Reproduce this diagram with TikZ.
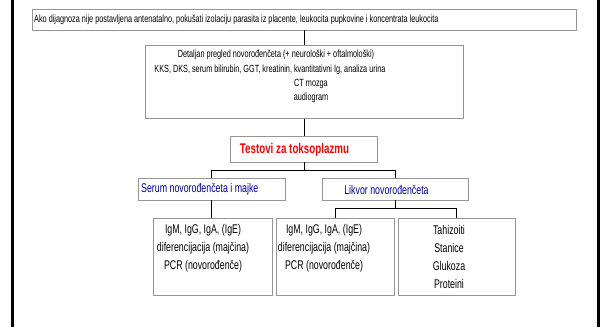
\documentclass[tikz,border=0pt]{standalone}
\usepackage{fontspec}
\setmainfont{Liberation Sans}
\newfontfamily\uski[FakeStretch=0.7]{Liberation Sans}
\definecolor{sivo}{RGB}{150,150,150}
\definecolor{plavo}{RGB}{0,0,160}

\begin{document}
\begin{tikzpicture}[x=1pt,y=1pt]
	\tikzstyle{every node}+=[inner sep=0pt]
	\tikzstyle{okvir}=[draw=sivo, line width=0.9pt, fill=white]
	\tikzstyle{veza}=[black, line width=0.7pt]
	\tikzstyle{sitno}=[font=\uski\fontsize{10.4}{12}\selectfont]
	\tikzstyle{srednje}=[font=\uski\fontsize{12.6}{18}\selectfont]
	\useasboundingbox (0,0) rectangle (602,-327);
	% rubovi slajda
	\fill [black] (11,0) rectangle (14,-327);
	\fill [black] (597,0) rectangle (600,-327);
	% okviri
	\node [okvir, minimum width=544pt, minimum height=21pt] (uvod) at (304,-19.5) {};
	\node [okvir, minimum width=318pt, minimum height=73pt] (pregled) at (304,-82) {};
	\node [okvir, minimum width=147pt, minimum height=26pt] (testovi) at (304,-149) {};
	\node [okvir, minimum width=147pt, minimum height=22pt] (serum) at (211.5,-189) {};
	\node [okvir, minimum width=146pt, minimum height=22pt] (likvor) at (395,-189) {};
	\node [okvir, minimum width=119pt, minimum height=77pt] (krvIg) at (212.5,-256.5) {};
	\node [okvir, minimum width=118pt, minimum height=77pt] (likvorIg) at (335,-256.5) {};
	\node [okvir, minimum width=117pt, minimum height=77pt] (likvorNalaz) at (456.5,-256.5) {};
	% tekstovi
	\node [sitno, anchor=west] (uvodT) at (34,-19.5) {Ako dijagnoza nije postavljena antenatalno, pokušati izolaciju parasita iz placente, leukocita pupkovine i koncentrata leukocita};
	\node [sitno] (pregledA) at (276,-55) {Detaljan pregled novorođenčeta (+ neurološki + oftalmološki)};
	\node [sitno] (pregledB) at (270,-69.5) {KKS, DKS, serum bilirubin, GGT, kreatinin, kvantitativni Ig, analiza urina};
	\node [sitno] (pregledC) at (311,-84) {CT mozga};
	\node [sitno] (pregledD) at (311,-98) {audiogram};
	\node [font=\uski\fontsize{14}{15}\selectfont\bfseries, text=red] (testoviT) at (294.5,-150) {Testovi za toksoplazmu};
	\node [srednje, text=plavo, anchor=west] (serumT) at (141,-189.5) {Serum novorođenčeta i majke};
	\node [srednje, text=plavo] (likvorT) at (386.5,-189.5) {Likvor novorođenčeta};
	\node [srednje, align=center] (krvIgT) at (203,-248) {IgM, IgG, IgA, (IgE)\\diferencijacija (majčina)\\PCR (novorođenče)};
	\node [srednje, align=center] (likvorIgT) at (324,-248) {IgM, IgG, IgA, (IgE)\\diferencijacija (majčina)\\PCR (novorođenče)};
	\node [srednje, align=center] (likvorNalazT) at (449,-257) {Tahizoiti\\Stanice\\Glukoza\\Proteini};
	% veze
	\coordinate (grana) at (304,-170);
	\coordinate (grana2) at (395,-208);
	\draw [veza] (uvod.south) -- (pregled.north);
	\draw [veza] (pregled.south) -- (testovi.north);
	\draw [veza] (testovi.south) -- (grana);
	\draw [veza] (grana) -| (serum.north);
	\draw [veza] (grana) -| (likvor.north);
	\draw [veza] (serum.south) -- (serum.south |- krvIg.north);
	\draw [veza] (likvor.south) -- (grana2);
	\draw [veza] (grana2) -| (likvorIg.north);
	\draw [veza] (grana2) -| (likvorNalaz.north);
\end{tikzpicture}
\end{document}
